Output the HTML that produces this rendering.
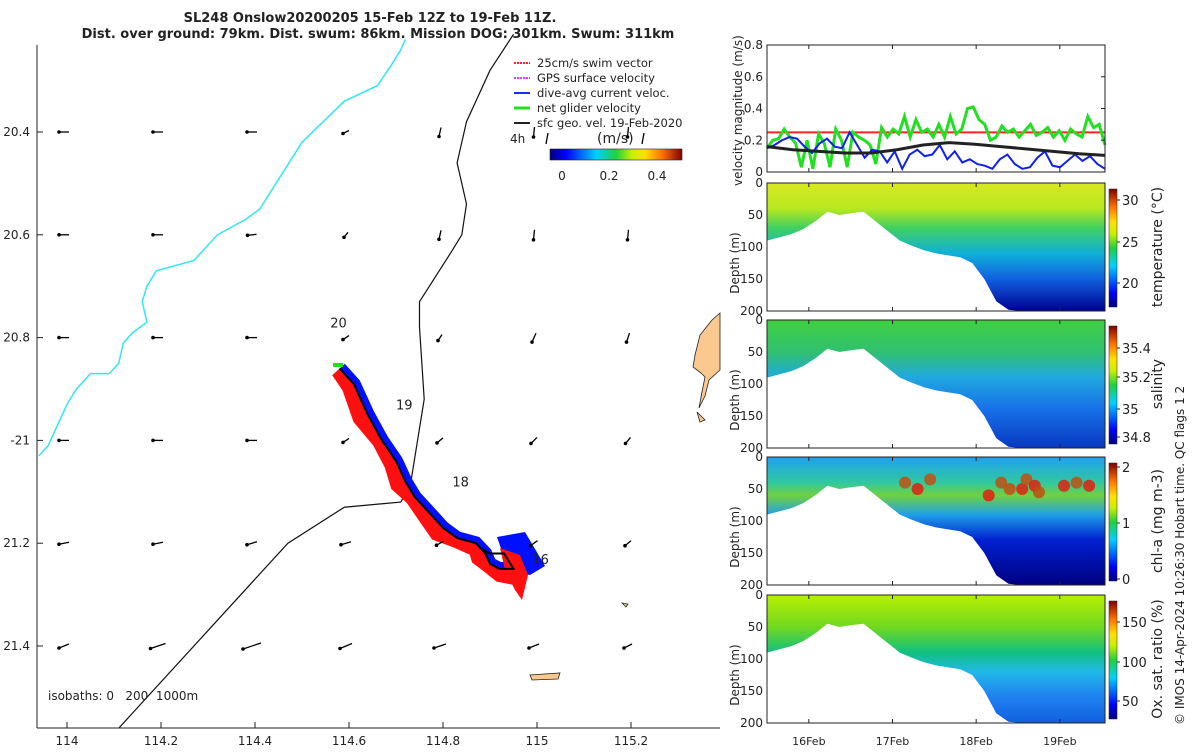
<!DOCTYPE html>
<html><head><meta charset="utf-8"><style>
body{margin:0;background:#fff;font-family:"Liberation Sans","DejaVu Sans",sans-serif}
svg text{font-family:"DejaVu Sans","Liberation Sans",sans-serif;fill:#222}
</style></head><body>
<svg id="fig" width="1200" height="750" viewBox="0 0 1200 750" xmlns="http://www.w3.org/2000/svg">
<defs>
<linearGradient id="jet" x1="0" y1="1" x2="0" y2="0">
<stop offset="0" stop-color="#00007f"/><stop offset="0.12" stop-color="#0000ff"/><stop offset="0.35" stop-color="#00d0ff"/><stop offset="0.5" stop-color="#20d040"/><stop offset="0.62" stop-color="#c8f000"/><stop offset="0.72" stop-color="#ffe000"/><stop offset="0.85" stop-color="#ff7000"/><stop offset="1" stop-color="#7f0000"/></linearGradient>
<linearGradient id="jeth" x1="0" y1="0" x2="1" y2="0">
<stop offset="0" stop-color="#00007f"/><stop offset="0.12" stop-color="#0000ff"/><stop offset="0.35" stop-color="#00d0ff"/><stop offset="0.5" stop-color="#20d040"/><stop offset="0.62" stop-color="#c8f000"/><stop offset="0.72" stop-color="#ffe000"/><stop offset="0.85" stop-color="#ff7000"/><stop offset="1" stop-color="#7f0000"/></linearGradient>
<linearGradient id="gT" x1="0" y1="0" x2="0" y2="1"><stop offset="0" stop-color="#d8e820"/><stop offset="0.2" stop-color="#b8e820"/><stop offset="0.35" stop-color="#40d060"/><stop offset="0.55" stop-color="#10b0d8"/><stop offset="0.75" stop-color="#1060e0"/><stop offset="1" stop-color="#000090"/></linearGradient>
<linearGradient id="gS" x1="0" y1="0" x2="0" y2="1"><stop offset="0" stop-color="#40d040"/><stop offset="0.25" stop-color="#30c070"/><stop offset="0.45" stop-color="#20a8e0"/><stop offset="0.7" stop-color="#1870e8"/><stop offset="1" stop-color="#0838c0"/></linearGradient>
<linearGradient id="gC" x1="0" y1="0" x2="0" y2="1"><stop offset="0" stop-color="#20a0f0"/><stop offset="0.2" stop-color="#30c8a0"/><stop offset="0.3" stop-color="#70d040"/><stop offset="0.45" stop-color="#20a0e8"/><stop offset="0.65" stop-color="#0020d0"/><stop offset="1" stop-color="#000080"/></linearGradient>
<linearGradient id="gO" x1="0" y1="0" x2="0" y2="1"><stop offset="0" stop-color="#b8f000"/><stop offset="0.25" stop-color="#70d820"/><stop offset="0.45" stop-color="#10c080"/><stop offset="0.6" stop-color="#20b8e8"/><stop offset="0.8" stop-color="#2080f0"/><stop offset="1" stop-color="#1060e0"/></linearGradient>
</defs>
<text x="370" y="22" font-size="13" font-weight="bold" text-anchor="middle">SL248 Onslow20200205 15-Feb 12Z to 19-Feb 11Z.</text>
<text x="378" y="38" font-size="13" font-weight="bold" text-anchor="middle">Dist. over ground: 79km. Dist. swum: 86km. Mission DOG: 301km. Swum: 311km</text>
<g id="map"></g>
<g id="right"></g>
<text transform="translate(1184,725) rotate(-90)" font-size="12">© IMOS 14-Apr-2024 10:26:30 Hobart time. QC flags 1  2</text>
</svg>
<script>
const NS='http://www.w3.org/2000/svg';
function mk(p,t,a){const e=document.createElementNS(NS,t);for(const k in a)e.setAttribute(k,a[k]);p.appendChild(e);return e;}
const lonTicks=[114,114.2,114.4,114.6,114.8,115,115.2];
const latTicks=[20.4,20.6,20.8,21,21.2,21.4];
const latLabels=['20.4','20.6','20.8','-21','21.2','21.4'];
const coastLon=[113.94,113.96,113.98,114.0,114.02,114.05,114.09,114.11,114.12,114.14,114.17,114.16,114.17,114.19,114.27,114.32,114.38,114.41,114.5,114.59,114.66,114.69,114.71,114.72];
const coastLat=[21.03,21.01,20.97,20.93,20.9,20.87,20.87,20.85,20.81,20.79,20.77,20.73,20.7,20.67,20.65,20.6,20.57,20.55,20.42,20.34,20.31,20.27,20.24,20.22];
const isoLon=[114.11,114.3,114.47,114.59,114.71,114.73,114.76,114.75,114.75,114.82,114.84,114.85,114.83,114.85,114.9,114.95];
const isoLat=[21.56,21.37,21.2,21.13,21.12,21.09,20.92,20.78,20.73,20.63,20.6,20.54,20.46,20.38,20.28,20.21];
const trackLon=[114.58,114.61,114.64,114.67,114.7,114.72,114.74,114.77,114.8,114.83,114.87,114.89,114.9,114.92,114.95,114.93,114.9,114.88];
const trackLat=[20.86,20.89,20.95,21.0,21.04,21.08,21.11,21.14,21.17,21.19,21.2,21.22,21.24,21.25,21.25,21.22,21.22,21.21];
const arrowU=[[-1,-1,-1,-0.6,-0.2,-0.1,-0.1],[-1,-1,-0.9,-0.4,-0.2,-0.1,-0.1],[-1,-1,-1,-0.6,-0.4,-0.4,-0.3],[-1,-1,-1,-0.6,-0.6,-0.6,-0.5],[-1,-1,-1,-1,-0.7,-0.7,-0.6],[-1,-1.5,-1.8,-1.2,-1.2,-1,-0.8]];
const arrowV=[[0,0,0,0.3,0.9,1,1],[0,0,0.1,0.5,0.9,1,1],[0,0,0,0.4,0.6,0.9,0.9],[0,0,0,0.4,0.5,0.6,0.6],[0.2,0.2,0.3,0.3,0.4,0.5,0.5],[0.4,0.5,0.6,0.5,0.4,0.4,0.4]];
const dayLabels=['20','19','18','16'];
const dayLon=[114.56,114.7,114.82,114.99];
const dayLat=[20.78,20.94,21.09,21.24];
const X=l=>67+(l-114)*470, Y=l=>132+(l-20.4)*514;
const map=document.getElementById('map');
mk(map,'rect',{x:37,y:45,width:683,height:683,fill:'#fff'});
let e=mk(map,'polyline',{points:coastLon.map((l,i)=>X(l)+','+Y(coastLat[i])).join(' '),fill:'none',stroke:'#30e8f0','stroke-width':1.5});

e=mk(map,'polyline',{points:isoLon.map((l,i)=>X(l)+','+Y(isoLat[i])).join(' '),fill:'none',stroke:'#111','stroke-width':1.2});

e=mk(map,'path',{d:'M720,313 L712,320 L700,335 L695,355 L693,367 L701,373 L705,377 L702,392 L699,408 L705,396 L709,380 L720,370 Z M697,412 L700,422 L705,420 Z M530,675 L560,673 L558,679 L532,680 Z M622,603 L628,604 L626,607Z',fill:'#fbc88f',stroke:'#222','stroke-width':0.8});

const pts=trackLon.map((l,i)=>[X(l),Y(trackLat[i])]);
const main=pts.slice(0,15);
function offs(arr,w,jit){return arr.map((p,i)=>{const a=arr[Math.max(0,i-1)],b=arr[Math.min(arr.length-1,i+1)];let dx=b[0]-a[0],dy=b[1]-a[1];const L=Math.hypot(dx,dy)||1;dx/=L;dy/=L;const ww=w*(1+(jit?((i*7)%3)*0.3:0));return [p[0]+dy*ww,p[1]-dx*ww];});}
const bOut=offs(main,7,false),rOut=offs(main,-10,true);
e=mk(map,'polygon',{points:main.concat(bOut.slice().reverse()).map(p=>p.join(',')).join(' '),fill:'#0010ff'});

e=mk(map,'polygon',{points:'497,537 525,532 545,566 530,575 515,572 505,560',fill:'#0010ff'});

e=mk(map,'polygon',{points:main.concat(rOut.slice().reverse()).map(p=>p.join(',')).join(' '),fill:'#ff1010'});

e=mk(map,'polygon',{points:'500,548 520,555 528,575 522,600 515,590 505,570',fill:'#ff1010'});

e=mk(map,'polyline',{points:pts.map(p=>p.join(',')).join(' '),fill:'none',stroke:'#000','stroke-width':2});

mk(map,'rect',{x:333,y:363,width:10,height:4,fill:'#20e020'});
dayLabels.forEach((d,i)=>{const t=mk(map,'text',{x:X(dayLon[i]),y:Y(dayLat[i]),'font-size':13});t.textContent=d;
});
latTicks.forEach((la,j)=>lonTicks.forEach((lo,i)=>{const x=X(lo)-3,y=Y(la);const u=arrowU[j][i],v=arrowV[j][i];
const a=mk(map,'line',{x1:x-u*5,y1:y-v*5,x2:x+u*5,y2:y+v*5,stroke:'#000','stroke-width':1.3});

mk(map,'circle',{cx:x+u*5,cy:y+v*5,r:1.8,fill:'#000'});}));
mk(map,'line',{x1:37,y1:45,x2:37,y2:728,stroke:'#222'});mk(map,'line',{x1:37,y1:728,x2:720,y2:728,stroke:'#222'});
lonTicks.forEach(l=>{mk(map,'line',{x1:X(l),y1:728,x2:X(l),y2:722,stroke:'#222'});const t=mk(map,'text',{x:X(l),y:745,'font-size':12,'text-anchor':'middle'});t.textContent=String(l);
});
latTicks.forEach((l,i)=>{mk(map,'line',{x1:37,y1:Y(l),x2:43,y2:Y(l),stroke:'#222'});const t=mk(map,'text',{x:30,y:Y(l)+4,'font-size':12,'text-anchor':'end'});t.textContent=latLabels[i];
});
let t=mk(map,'text',{x:48,y:700,'font-size':12});t.textContent='isobaths: 0   200  1000m';t.setAttribute('style','white-space:pre');

const legNames=['25cm/s swim vector','GPS surface velocity','dive-avg current veloc.','net glider velocity','sfc geo. vel. 19-Feb-2020'];
const legCols=['#ff2020','#ff30ff','#1030ff','#20e020','#222'];
legNames.forEach((n,i)=>{const y=63+i*15;mk(map,'line',{x1:514,y1:y,x2:530,y2:y,stroke:legCols[i],'stroke-width':i==3?3:2,'stroke-dasharray':i<2?'2,1':''});
const tt=mk(map,'text',{x:537,y:y+4,'font-size':11.5});tt.textContent=n;});
t=mk(map,'text',{x:510,y:143,'font-size':12});t.textContent='4h';
t=mk(map,'text',{x:597,y:143,'font-size':14});t.textContent='(m/s)';
mk(map,'line',{x1:548,y1:133,x2:546,y2:144,stroke:'#000','stroke-width':1.3});mk(map,'line',{x1:644,y1:133,x2:642,y2:144,stroke:'#000','stroke-width':1.3});
e=mk(map,'rect',{x:550,y:149,width:132,height:11,fill:'url(#jeth)',stroke:'#222','stroke-width':0.6});

[['0',562],['0.2',609],['0.4',657]].forEach(a=>{const tt=mk(map,'text',{x:a[1],y:180,'font-size':12,'text-anchor':'middle'});tt.textContent=a[0];});

const tStart=15.5, tEnd=19.54;
const dayTicks=[16,17,18,19];
const green=[0.15,0.2,0.21,0.27,0.22,0.18,0.03,0.2,0.02,0.24,0.18,0.03,0.27,0.2,0.03,0.25,0.22,0.2,0.17,0.05,0.28,0.22,0.27,0.24,0.35,0.22,0.33,0.25,0.27,0.22,0.3,0.22,0.35,0.24,0.27,0.4,0.41,0.33,0.3,0.2,0.22,0.29,0.25,0.27,0.22,0.26,0.3,0.23,0.25,0.28,0.22,0.26,0.2,0.27,0.24,0.22,0.35,0.28,0.3,0.17];
const blueV=[0.15,0.17,0.2,0.22,0.21,0.16,0.12,0.18,0.21,0.16,0.15,0.25,0.17,0.09,0.14,0.13,0.06,0.13,0.02,0.11,0.14,0.1,0.11,0.17,0.08,0.13,0.06,0.08,0.05,0.04,0.02,0.08,0.11,0.05,0.02,0.03,0.09,0.13,0.04,0.03,0.07,0.11,0.07,0.1,0.05,0.02];
const blackV=[0.16,0.14,0.13,0.12,0.12,0.14,0.17,0.185,0.175,0.16,0.145,0.13,0.115,0.105];
const redV=[0.25,0.25];
const bottomDepth=[90,85,80,72,60,45,50,47,45,60,75,90,98,105,110,113,116,125,150,185,198,200,200,200,200,200,200,200,200];
const chlSpotsT=[17.15,17.3,17.45,18.15,18.3,18.55,18.6,18.7,18.75,19.05,19.2,19.35,18.4];
const chlSpotsD=[40,50,35,60,40,50,35,45,55,45,40,45,50];
const R=document.getElementById('right');
const PX0=767,PX1=1105;
const TX=d=>PX0+(d-tStart)/(tEnd-tStart)*(PX1-PX0);
function panel(y0,h){mk(R,'rect',{x:PX0,y:y0,width:PX1-PX0,height:h,fill:'none',stroke:'#222','stroke-width':1});
dayTicks.forEach(d=>{mk(R,'line',{x1:TX(d),y1:y0+h,x2:TX(d),y2:y0+h-4,stroke:'#222'});mk(R,'line',{x1:TX(d),y1:y0,x2:TX(d),y2:y0+4,stroke:'#222'});});}
const VY0=45,VH=127,VY=v=>VY0+VH-v/0.8*VH;
function series(arr,col,w,name){const p=arr.map((v,i)=>TX(tStart+i/(arr.length-1)*(tEnd-tStart))+','+VY(v)).join(' ');
const s=mk(R,'polyline',{points:p,fill:'none',stroke:col,'stroke-width':w});}
series(redV,'#ff2020',2,'swim-speed-line');
series(green,'#20e020',3,'net-glider-velocity-line');
series(blueV,'#1020ee',2,'dive-avg-current-line');
series(blackV,'#222',3,'geo-velocity-line');
panel(VY0,VH);
[0,0.2,0.4,0.6,0.8].forEach(v=>{mk(R,'line',{x1:PX1,y1:VY(v),x2:PX1-4,y2:VY(v),stroke:'#222'});const tt=mk(R,'text',{x:763,y:VY(v)+4,'font-size':12,'text-anchor':'end'});tt.textContent=String(v);});
t=mk(R,'text',{transform:'translate(742,186) rotate(-90)','font-size':12});t.textContent='velocity magnitude (m/s)';
const secs=[{y:183,g:'gT',name:'temperature (°C)',ticks:[['30',200],['25',242],['20',283]]},
{y:320,g:'gS',name:'salinity',ticks:[['35.4',348],['35.2',377],['35',409],['34.8',437]]},
{y:457,g:'gC',name:'chl-a (mg m-3)',ticks:[['2',467],['1',523],['0',579]]},
{y:595,g:'gO',name:'Ox. sat. ratio (%)',ticks:[['150',622],['100',662],['50',701]]}];
const SH=128;
secs.forEach((s,k)=>{const DY=d=>s.y+d/200*SH;
const poly=bottomDepth.map((d,i)=>TX(tStart+i/(bottomDepth.length-1)*(tEnd-tStart))+','+DY(d));
const sp=mk(R,'polygon',{points:PX0+','+DY(0)+' '+poly.join(' ')+' '+PX1+','+DY(0),fill:'url(#'+s.g+')'});

if(k==2){chlSpotsT.forEach((tt,i)=>{const c=mk(R,'circle',{cx:TX(tt),cy:DY(chlSpotsD[i]),r:6,fill:i%2?'#e02010':'#c05010',opacity:0.85});});}
panel(s.y,SH);
[0,50,100,150,200].forEach(d=>{const tt=mk(R,'text',{x:763,y:DY(d)+4,'font-size':12,'text-anchor':'end'});tt.textContent=String(d);});
const yt=mk(R,'text',{transform:'translate(739,'+(s.y+80)+') rotate(-90)','font-size':12,'text-anchor':'middle'});yt.textContent='Depth (m)';
const cb=mk(R,'rect',{x:1109,y:s.y+6,width:8,height:SH-10,fill:'url(#jet)',stroke:'#222','stroke-width':0.5});
s.ticks.forEach(a=>{mk(R,'line',{x1:1117,y1:a[1],x2:1120,y2:a[1],stroke:'#222'});const tt=mk(R,'text',{x:1122,y:a[1]+5,'font-size':13});tt.textContent=a[0];});
const ct=mk(R,'text',{transform:'translate(1162,'+(s.y+SH/2)+') rotate(-90)','font-size':14,'text-anchor':'middle'});ct.textContent=s.name;
});
dayTicks.forEach(d=>{const tt=mk(R,'text',{x:TX(d),y:745,'font-size':11,'text-anchor':'middle'});tt.textContent=d+'Feb';});
</script>
</body></html>
